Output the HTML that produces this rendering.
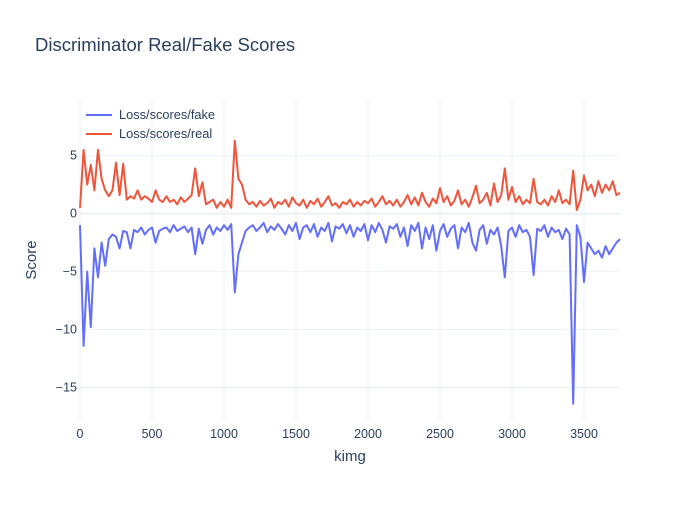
<!DOCTYPE html>
<html><head><meta charset="utf-8"><style>
body{margin:0;background:#fff;font-family:"Liberation Sans",sans-serif}
svg text{font-family:"Liberation Sans",sans-serif}
</style></head><body>
<svg id="chart" width="700" height="500" xmlns="http://www.w3.org/2000/svg">
<rect width="700" height="500" fill="#fff"/>
<text x="35" y="51" font-size="18.5" fill="#2a3f5f">Discriminator Real/Fake Scores</text>
<g id="grid"></g><g id="series"></g><g id="ticks"></g>
<text x="350" y="461" font-size="15" fill="#2a3f5f" text-anchor="middle">kimg</text>
<text transform="translate(36,260) rotate(-90)" font-size="15" fill="#2a3f5f" text-anchor="middle">Score</text>
<g>
<g><line x1="86" y1="115" x2="112" y2="115" stroke="#636efa" stroke-width="2"/><text x="119" y="119" font-size="12.8" fill="#2a3f5f">Loss/scores/fake</text></g>
<g><line x1="86" y1="134" x2="112" y2="134" stroke="#EF553B" stroke-width="2"/><text x="119" y="138" font-size="12.8" fill="#2a3f5f">Loss/scores/real</text></g>
</g>
</svg>
<script>
const kimgStep = 25;
const xTicks = [0,500,1000,1500,2000,2500,3000,3500];
const yTicks = [5,0,-5,-10,-15];
const realScores = [
0.5,5.5,2.5,4.2,2.0,5.5,3.0,2.0,
1.5,2.0,4.4,1.6,4.3,1.2,1.5,1.3,
2.0,1.2,1.5,1.3,1.0,2.0,1.2,1.0,
1.5,1.0,1.2,0.8,1.4,1.0,1.3,1.6,
3.9,1.5,2.7,0.8,1.0,1.2,0.5,1.0,
0.6,1.2,0.5,6.3,3.0,2.5,1.2,0.8,
1.0,0.6,1.1,0.7,0.9,1.3,0.5,1.0,
0.8,1.2,0.6,1.4,0.9,0.7,1.2,0.5,
1.1,0.8,1.3,0.6,1.0,1.5,0.7,0.9,
0.5,1.0,0.8,1.2,0.6,1.0,0.7,1.1,
0.9,1.3,0.6,1.0,1.5,0.8,1.1,0.7,
1.2,0.6,1.0,1.6,0.8,1.4,0.7,1.8,
1.0,0.6,1.3,0.9,2.2,1.0,1.5,0.7,
1.1,2.0,0.8,1.2,0.6,1.4,2.4,0.9,
1.2,1.8,0.7,2.6,1.0,1.6,3.9,1.2,
2.3,1.0,1.5,0.8,1.2,0.9,3.0,1.0,
0.8,1.2,0.7,1.5,1.0,2.0,0.9,1.2,
0.8,3.7,0.3,1.2,3.3,2.0,2.5,1.5,
2.8,1.8,2.5,2.0,2.8,1.6,1.8];
const fakeScores = [
-1.0,-11.4,-5.0,-9.8,-3.0,-5.5,-2.5,-4.5,
-2.2,-1.8,-2.0,-3.0,-1.5,-1.6,-3.0,-1.4,
-1.6,-1.2,-1.8,-1.4,-1.2,-2.5,-1.5,-1.3,
-1.2,-1.6,-1.0,-1.5,-1.3,-1.1,-1.6,-1.2,
-3.5,-1.3,-2.6,-1.4,-1.0,-1.8,-1.2,-1.5,
-1.0,-1.4,-0.9,-6.8,-3.5,-2.5,-1.5,-1.2,
-1.0,-1.5,-1.2,-0.8,-1.6,-1.1,-1.4,-0.9,
-1.3,-1.8,-1.0,-1.5,-0.8,-2.2,-1.2,-1.0,
-1.6,-0.9,-2.0,-1.2,-1.5,-0.8,-2.4,-1.1,
-1.3,-0.9,-1.7,-1.0,-2.0,-1.2,-1.5,-0.9,
-2.3,-1.0,-1.6,-0.8,-1.4,-2.5,-1.1,-1.3,
-0.9,-2.0,-1.2,-2.8,-1.0,-1.5,-0.8,-3.0,
-1.2,-2.2,-1.0,-3.2,-1.5,-0.9,-2.0,-1.3,
-1.0,-3.0,-1.2,-1.6,-0.8,-2.5,-3.2,-1.4,
-1.0,-2.6,-1.4,-1.8,-1.2,-2.8,-5.5,-1.5,
-1.2,-2.0,-1.0,-1.6,-1.4,-2.0,-5.3,-1.3,
-1.5,-1.0,-2.0,-1.2,-1.6,-1.4,-2.2,-1.3,
-1.8,-16.4,-1.0,-2.0,-5.9,-2.5,-3.0,-3.5,
-3.2,-3.8,-2.8,-3.5,-3.0,-2.5,-2.2];
const NS='http://www.w3.org/2000/svg';
const L=80,R=620,T=100,B=420, xMax=3750, yMin=-17.8, yMax=9.8;
const xs=v=>L+(v/xMax)*(R-L);
const ys=v=>B-(v-yMin)/(yMax-yMin)*(B-T);
const grid=document.getElementById('grid'),ticks=document.getElementById('ticks'),ser=document.getElementById('series');
function mk(tag,attrs,parent){const e=document.createElementNS(NS,tag);for(const k in attrs)e.setAttribute(k,attrs[k]);parent.appendChild(e);return e;}
xTicks.forEach(t=>{
  const g=mk('line',{x1:xs(t),x2:xs(t),y1:T,y2:B,stroke:'#ebf0f8','stroke-width':1},grid);
  
  
  const tx=mk('text',{x:xs(t),y:B+18,'font-size':12.5,fill:'#2a3f5f','text-anchor':'middle'},ticks);
  tx.textContent=t;
  
  
});
yTicks.forEach(t=>{
  const g=mk('line',{x1:L,x2:R,y1:ys(t),y2:ys(t),stroke:'#ebf0f8','stroke-width':t===0?2:1},grid);
  
  
  const tx=mk('text',{x:L-3,y:ys(t)+4,'font-size':12.5,fill:'#2a3f5f','text-anchor':'end'},ticks);
  tx.textContent=t<0?'\u2212'+Math.abs(t):t;
  
  
});
function drawLine(vals,color,name){
  const pts=vals.map((v,i)=>xs(i*kimgStep).toFixed(1)+','+ys(v).toFixed(1)).join(' ');
  const p=mk('polyline',{points:pts,fill:'none',stroke:color,'stroke-width':2,'stroke-linejoin':'round'},ser);
  
  
}
drawLine(fakeScores,'#636efa','fake-scores-line');
drawLine(realScores,'#EF553B','real-scores-line');
</script>
</body></html>
